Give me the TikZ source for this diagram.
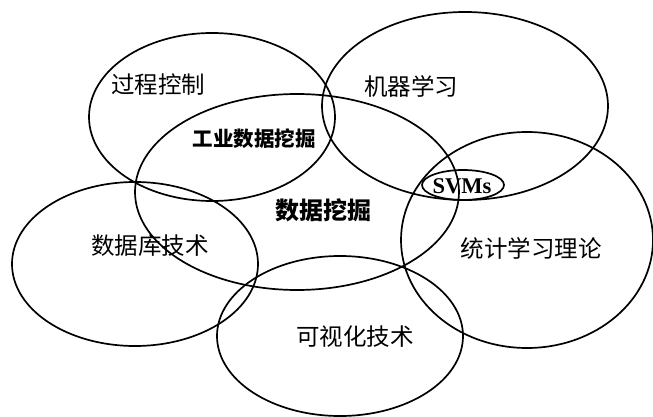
\documentclass[tikz,border=0pt]{standalone}
\usepackage{fontspec}
\newfontfamily\cjk{Noto Sans CJK SC}
\newfontfamily\svmfont{Liberation Serif}
\tikzset{
  ring/.style={draw=black, line width=1.7pt},
  lbl/.style={font=\cjk\fontsize{23.5}{26}\selectfont, inner sep=0pt},
  blbl/.style={font=\cjk\bfseries\fontsize{20.5}{24}\selectfont, inner sep=0pt},
}
\begin{document}
\begin{tikzpicture}[x=1pt,y=-1pt]
\useasboundingbox[fill=white] (0,0) rectangle (653,417);
% ellipses
\draw[ring] (212,117) ellipse [x radius=123, y radius=84];
\draw[ring] (465,106) ellipse [x radius=143, y radius=94];
\draw[ring] (297,192) ellipse [x radius=162, y radius=98];
\draw[ring] (527,240) ellipse [x radius=126, y radius=108];
\draw[ring] (135,264) ellipse [x radius=123, y radius=82];
\draw[ring] (340,336) ellipse [x radius=123, y radius=80];
\draw[ring] (463,185) ellipse [x radius=41, y radius=15];
% labels
\node[lbl] (gc) at (158,85) {过程控制};
\node[lbl] (jq) at (411,86) {机器学习};
\node[blbl] (gy) at (254,139) {工业数据挖掘};
\node[blbl, font=\cjk\bfseries\fontsize{24}{26}\selectfont] (sj) at (323,210) {数据挖掘};
\node[lbl] (db) at (150,246) {数据库技术};
\node[lbl] (kv) at (355,337) {可视化技术};
\node[lbl] (tj) at (531,248) {统计学习理论};
\node[font=\svmfont\bfseries\fontsize{22.5}{24}\selectfont, inner sep=0pt] (svm) at (462,186) {SVMs};
\end{tikzpicture}
\end{document}
